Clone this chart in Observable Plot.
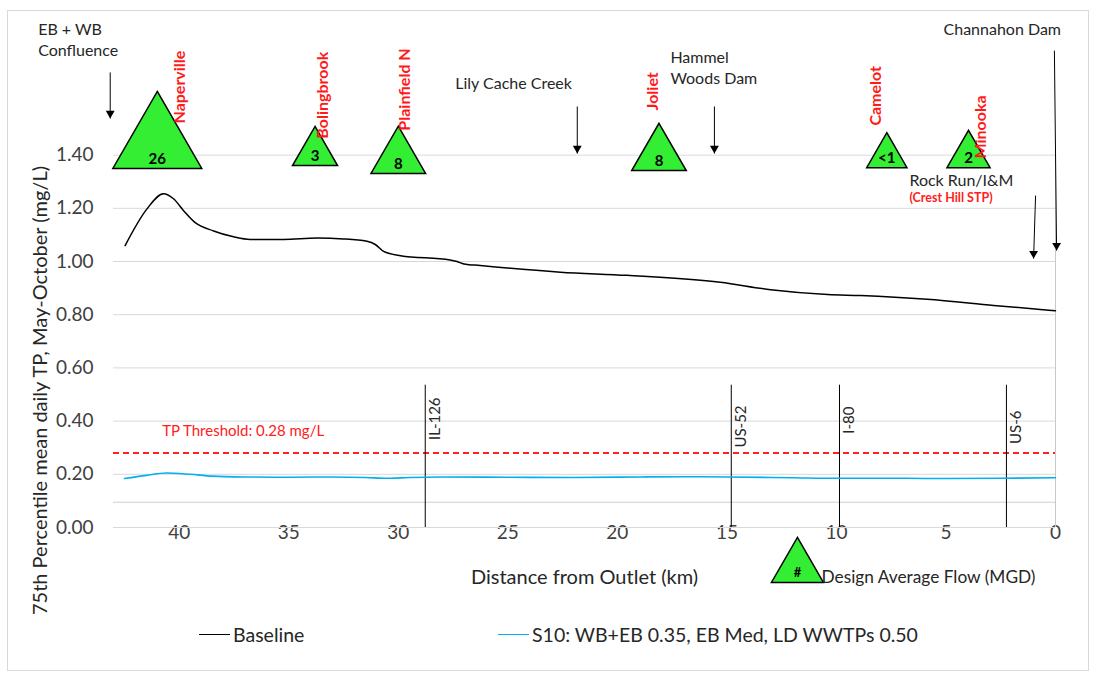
<!DOCTYPE html>
<html><head><meta charset="utf-8">
<script src="https://cdn.jsdelivr.net/npm/d3@7"></script>
<script src="https://cdn.jsdelivr.net/npm/@observablehq/plot@0.6"></script>
<style>
body{margin:0;background:#fff;font-family:Lato,"Open Sans",sans-serif;}
#wrap{position:relative;width:1093px;height:675px;overflow:hidden;background:#fff;}
#frame{position:absolute;left:7px;top:10px;width:1082px;height:661px;border:1px solid #d9d9d9;box-sizing:border-box;}
#chart{position:absolute;left:0;top:0;}
.leg{position:absolute;top:622px;height:24px;display:flex;align-items:center;font-size:19.5px;color:#262626;white-space:nowrap;}
.sw{display:inline-block;width:31px;height:0;border-top:1.5px solid;margin-right:3px;}
</style></head><body>
<div id="wrap"><div id="frame"></div><div id="chart"></div>
<div class="leg" style="left:199px"><span class="sw" style="border-color:#000"></span>Baseline</div>
<div class="leg" style="left:498px"><span class="sw" style="border-color:#00b0f0"></span>S10: WB+EB 0.35, EB Med, LD WWTPs 0.50</div>
</div>
<script>
// ---- data ----
const baselineKm = [42.47, 41.48, 40.72, 40.26, 39.8, 39.27, 38.43, 37.52, 36.76, 35.24, 33.71, 32.5, 31.43, 31.05, 30.67, 29.9, 27.63, 27.32, 27.0, 26.26, 22.6, 19.56, 15.3, 13.0, 10.4, 8.9, 5.86, 2.82, 0];
const baselineTP = [1.06, 1.197, 1.255, 1.236, 1.191, 1.146, 1.115, 1.093, 1.083, 1.083, 1.088, 1.085, 1.076, 1.064, 1.038, 1.022, 1.006, 1.0, 0.991, 0.985, 0.96, 0.948, 0.922, 0.894, 0.876, 0.872, 0.858, 0.835, 0.815];
const s10Km = [42.5, 41.5, 40.6, 39.5, 38.5, 37, 35, 33, 31.5, 30.5, 29.5, 28, 25, 22, 19, 17, 15, 12, 10, 7, 5, 2.5, 0];
const s10TP = [0.184, 0.196, 0.205, 0.2, 0.193, 0.19, 0.189, 0.19, 0.188, 0.185, 0.188, 0.19, 0.189, 0.188, 0.19, 0.191, 0.19, 0.187, 0.185, 0.185, 0.184, 0.185, 0.187];
const yTicks = [0, 0.2, 0.4, 0.6, 0.8, 1.0, 1.2, 1.4];
const xTicks = [40, 35, 30, 25, 20, 15, 10, 5, 0];
const threshold = 0.28;

const wwtpNames = ["Naperville", "Bolingbrook", "Plainfield N", "Joliet", "Camelot", "Minooka"];
const wwtpKm = [41.0, 33.8, 30.0, 18.1, 7.7, 3.97];
const wwtpFlow = [26, 3, 8, 8, 0.5, 2];
const wwtpFlowLabel = ["26", "3", "8", "8", "<1", "2"];
const wwtpBase = [1.35, 1.361, 1.331, 1.342, 1.353, 1.353];
const wwtpNameKm = [39.95, 33.42, 29.68, 18.4, 8.22, 3.42];
const wwtpNameLevel = [1.519, 1.462, 1.492, 1.568, 1.511, 1.387];

const roadNames = ["IL-126", "US-52", "I-80", "US-6"];
const roadKm = [28.77, 14.8, 9.86, 2.24];
const roadTop = [0.489, 0.459, 0.455, 0.44];

const landmarkText = ["EB + WB\nConfluence", "Lily Cache Creek", "Hammel\nWoods Dam", "Channahon Dam", "Rock Run/I&M"];
const landmarkKm = [46.44, 27.4, 17.58, 5.11, 6.67];
const landmarkLevel = [1.836, 1.673, 1.733, 1.876, 1.308];
const arrowX1 = [43.15, 21.83, 15.57, 0.05, 0.91];
const arrowY1 = [1.711, 1.583, 1.583, 1.793, 1.248];
const arrowX2 = [43.15, 21.83, 15.57, -0.05, 1.0];
const arrowY2 = [1.538, 1.406, 1.406, 1.041, 1.011];

// ---- layout ----
const W = 1093, H = 675, mL = 113, mR = 38, mT = 11, mB = 148;
const yMax = 1.94;
const pxPerUnit = (H - mT - mB) / yMax;
const kmPerPx = 43 / (W - mL - mR);
const rScale = d3.scaleLinear([0, 26], [14.6, 33]);
const TRI = 0.7776; // centroid-to-base factor for d3.symbolTriangle (in r units)

const baseline = baselineKm.map((k, i) => ({km: k, tp: baselineTP[i]}));
const s10 = s10Km.map((k, i) => ({km: k, tp: s10TP[i]}));
const wwtp = wwtpNames.map((n, i) => ({name: n, km: wwtpKm[i], flow: wwtpFlow[i], label: wwtpFlowLabel[i], base: wwtpBase[i], nkm: wwtpNameKm[i], nlev: wwtpNameLevel[i]}));
const roads = roadNames.map((n, i) => ({name: n, km: roadKm[i], top: roadTop[i]}));
const landmarks = landmarkText.map((t, i) => ({text: t, km: landmarkKm[i], lev: landmarkLevel[i]}));
const arrows = arrowX1.map((x, i) => ({x1: x, y1: arrowY1[i], x2: arrowX2[i], y2: arrowY2[i]}));

const ink = "#262626";
const marks = [
  Plot.ruleY(yTicks, {stroke: "#d9d9d9", strokeWidth: 1}),
  Plot.ruleY([0.095], {stroke: "#cfcfcf", strokeWidth: 1}),
  Plot.ruleX([0], {y1: 0, y2: 1.4, stroke: "#c8c8c8", strokeWidth: 1}),
  Plot.ruleY([threshold], {stroke: "#ff2020", strokeWidth: 2, strokeDasharray: "6,4"}),
  Plot.text(["TP Threshold: 0.28 mg/L"], {x: 40.78, y: 0.361, textAnchor: "start", fill: "#ff2020", fontSize: 15}),
  Plot.ruleX(roads, {x: "km", y1: 0, y2: 0.535, stroke: "#000", strokeWidth: 1}),
  Plot.text(roads, {x: d => d.km - 10 * kmPerPx, y: "top", text: "name", rotate: -90, textAnchor: "end", fill: ink, fontSize: 15}),
  Plot.line(s10, {x: "km", y: "tp", stroke: "#00b0f0", strokeWidth: 1.6, curve: "monotone-x"}),
  Plot.line(baseline, {x: "km", y: "tp", stroke: "#000", strokeWidth: 1.5, curve: "monotone-x"}),
  Plot.link(arrows, {x1: "x1", y1: "y1", x2: "x2", y2: "y2", stroke: "#000", strokeWidth: 1}),
  Plot.dot(arrows, {x: "x2", y: d => d.y2 + 1.555 * 3.3 / pxPerUnit, symbol: "triangle", rotate: 180, r: 3.3, fill: "#000", stroke: null}),
  Plot.text(landmarks, {x: "km", y: "lev", text: "text", textAnchor: "start", fill: ink, fontSize: 16, lineHeight: 1.3}),
  Plot.text(["(Crest Hill STP)"], {x: 6.67, y: 1.237, textAnchor: "start", fill: "#ff2020", fontWeight: "bold", fontSize: 12.5})
];
wwtp.forEach(w => {
  const r = rScale(w.flow);
  marks.push(Plot.dot([w], {x: "km", y: d => d.base + TRI * r / pxPerUnit, r, symbol: "triangle", fill: "#33ee33", stroke: "#000", strokeWidth: 1.5}));
});
marks.push(
  Plot.text(wwtp, {x: "km", y: d => d.base + 9 / pxPerUnit, text: "label", fill: "#000", fontWeight: "bold", fontSize: 15}),
  Plot.text(wwtp, {x: "nkm", y: "nlev", text: "name", rotate: -90, textAnchor: "start", fill: "#ff1a1a", fontWeight: "bold", fontSize: 16}),
  // legend for triangles
  Plot.dot([{km: 11.78}], {x: "km", y: d => -0.15, r: 19.3, symbol: "triangle", fill: "#33ee33", stroke: "#000", strokeWidth: 1.5}),
  Plot.text(["#"], {x: 11.78, y: -0.169, fill: "#000", fontWeight: "bold", fontSize: 13}),
  Plot.text(["Design Average Flow (MGD)"], {x: 10.68, y: -0.188, textAnchor: "start", fill: ink, fontSize: 17.3}),
  Plot.text(["Distance from Outlet (km)"], {x: 21.5, y: -0.188, fill: ink, fontSize: 20}),
  Plot.text(["75th Percentile mean daily TP, May-October (mg/L)"], {x: 46.35, y: 0.515, rotate: -90, fill: ink, fontSize: 20})
);

const chart = Plot.plot({
  width: W, height: H,
  marginLeft: mL, marginRight: mR, marginTop: mT, marginBottom: mB,
  style: {fontFamily: "Lato, 'Open Sans', sans-serif", fontSize: "19px", color: "#404040", background: "transparent", overflow: "visible"},
  x: {domain: [43, 0], ticks: xTicks, tickSize: 0, tickPadding: -2, label: null},
  y: {domain: [0, yMax], ticks: yTicks, tickSize: 0, tickPadding: 20, tickFormat: d3.format(".2f"), label: null},
  marks
});
document.getElementById("chart").appendChild(chart);
</script>
</body></html>
